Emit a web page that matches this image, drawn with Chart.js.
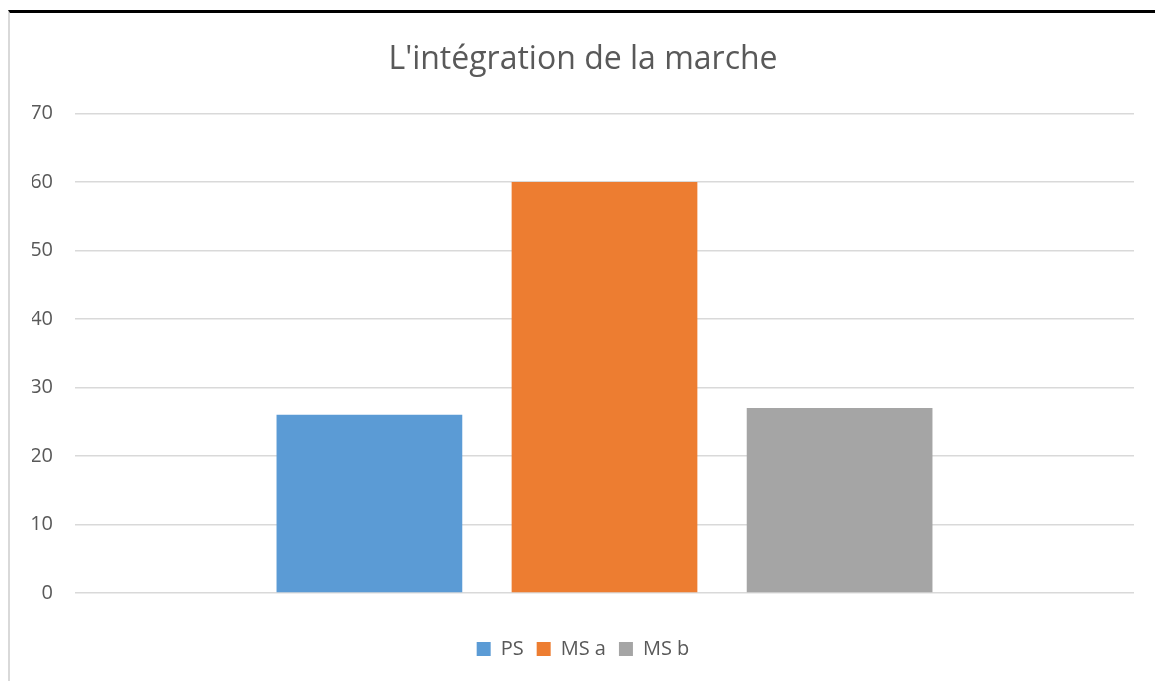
<!DOCTYPE html>
<html>
<head>
<meta charset="utf-8">
<script src="https://cdn.jsdelivr.net/npm/chart.js@4/dist/chart.umd.min.js"></script>
<style>
    body { margin: 0; background: #fff; }
    .frame {
        position: absolute;
        left: 8px; top: 10px;
        width: 1145px; height: 668px;
        border-top: 3px solid #000;
        border-left: 2px solid #d9d9d9;
    }
</style>
</head>
<body>
<div class="frame"><canvas id="chart"></canvas></div>
<script>
const categories = [''];
const seriesNames = ['PS', 'MS a', 'MS b'];
const psValues = [26];
const msaValues = [60];
const msbValues = [27];
const yTicks = [0, 10, 20, 30, 40, 50, 60, 70];

const textColor = '#595959';
const font = "'Open Sans', 'Liberation Sans', sans-serif";

const ctx = document.getElementById('chart').getContext('2d');

new Chart(ctx, {
    type: 'bar',
    data: {
        labels: categories,
        datasets: [
            { label: seriesNames[0], data: psValues, backgroundColor: '#5b9bd5' },
            { label: seriesNames[1], data: msaValues, backgroundColor: '#ed7d31' },
            { label: seriesNames[2], data: msbValues, backgroundColor: '#a5a5a5' }
        ]
    },
    options: {
        responsive: true,
        maintainAspectRatio: false,
        animation: false,
        categoryPercentage: 0.666,
        barPercentage: 0.79,
        layout: { padding: { left: 22, right: 21, top: 0, bottom: 12 } },
        plugins: {
            title: {
                display: true,
                text: "L'intégration de la marche",
                color: textColor,
                font: { family: font, size: 32, weight: 'normal' },
                padding: { top: 28, bottom: 34 }
            },
            legend: {
                position: 'bottom',
                labels: {
                    color: textColor,
                    font: { family: font, size: 20 },
                    boxWidth: 14,
                    boxHeight: 14,
                    padding: 13
                }
            },
            tooltip: { enabled: false }
        },
        scales: {
            x: {
                grid: { display: false },
                border: { display: false },
                ticks: { display: false },
                afterFit: scale => { scale.height = 33; }
            },
            y: {
                min: 0,
                max: 70,
                afterBuildTicks: scale => { scale.ticks = yTicks.map(v => ({ value: v })); },
                afterFit: scale => { scale.width = 43; },
                grid: { color: '#d9d9d9', lineWidth: 1.5, drawTicks: false },
                border: { display: false },
                ticks: {
                    color: textColor,
                    font: { family: font, size: 20 },
                    padding: 22
                }
            }
        }
    }
});
</script>
</body>
</html>
